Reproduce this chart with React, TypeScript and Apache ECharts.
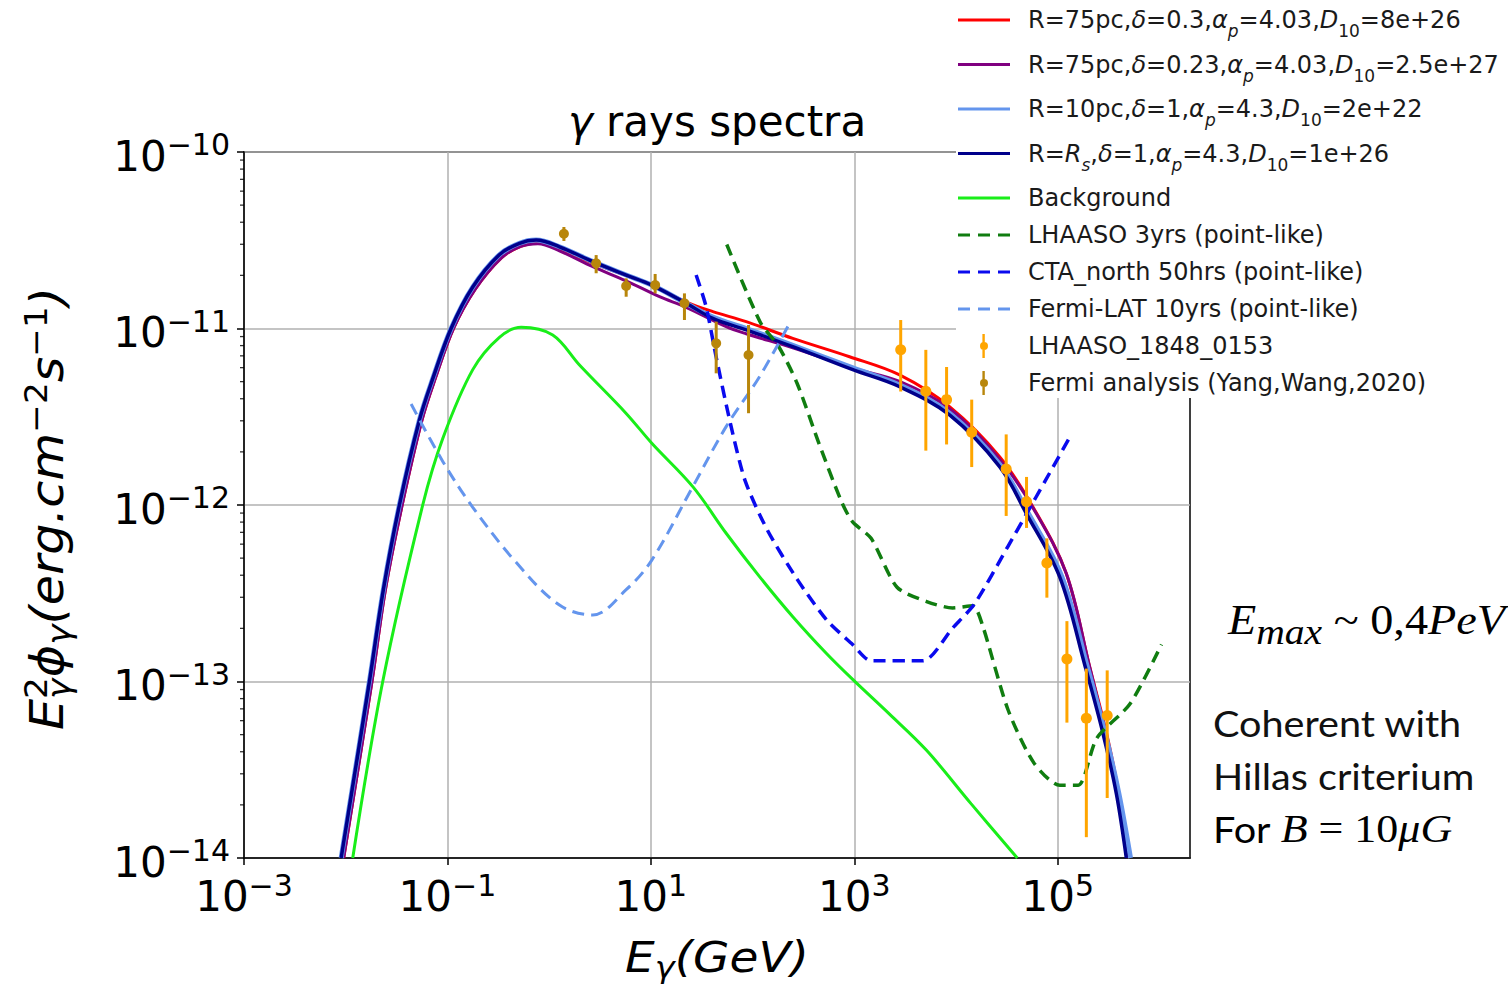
import React, { useEffect, useRef } from 'react';
import * as echarts from 'echarts';

// All values are log10: x = log10(E_gamma / GeV), y = log10(E^2 Phi / erg cm^-2 s^-1)
const X_TICKS = [-3, -1, 1, 3, 5];
const Y_TICKS = [-14, -13, -12, -11, -10];
const MINOR_MULTIPLES = [2, 3, 4, 5, 6, 7, 8, 9];

const NAME_RED = 'R=75pc,δ=0.3,αp=4.03,D10=8e+26';
const NAME_PURPLE = 'R=75pc,δ=0.23,αp=4.03,D10=2.5e+27';
const NAME_LIGHT = 'R=10pc,δ=1,αp=4.3,D10=2e+22';
const NAME_DARK = 'R=Rs,δ=1,αp=4.3,D10=1e+26';
const NAME_BG = 'Background';
const NAME_LH3 = 'LHAASO 3yrs (point-like)';
const NAME_CTA = 'CTA_north 50hrs (point-like)';
const NAME_FLAT = 'Fermi-LAT 10yrs (point-like)';
const NAME_LHD = 'LHAASO_1848_0153';
const NAME_FAD = 'Fermi analysis (Yang,Wang,2020)';

const RED: [number, number][] = [
  [-2.02, -14.0], [-1.742, -13.0], [-1.61, -12.48], [-1.445, -12.0], [-1.25, -11.518], [-1.12, -11.284],
  [-0.94, -11.0], [-0.73, -10.78], [-0.47, -10.6], [-0.28, -10.535], [-0.11, -10.515], [0.101, -10.55],
  [0.429, -10.63], [0.757, -10.7], [1.009, -10.755], [1.347, -10.85], [1.609, -10.904], [1.937, -10.961],
  [2.395, -11.056], [2.953, -11.16], [3.445, -11.263], [3.936, -11.443], [4.428, -11.726], [4.755, -12.01],
  [5.083, -12.387], [5.313, -12.916], [5.48, -13.293], [5.6, -13.633], [5.7, -14.0],
];
const PURPLE: [number, number][] = [
  [-2.02, -14.0], [-1.742, -13.0], [-1.61, -12.48], [-1.445, -12.0], [-1.25, -11.518], [-1.12, -11.284],
  [-0.94, -11.0], [-0.73, -10.78], [-0.47, -10.6], [-0.28, -10.535], [-0.11, -10.52], [0.101, -10.56],
  [0.429, -10.65], [0.757, -10.73], [1.085, -10.82], [1.347, -10.88], [1.74, -10.99], [1.937, -11.03],
  [2.395, -11.11], [2.992, -11.225], [3.445, -11.3], [3.936, -11.455], [4.428, -11.74], [4.755, -12.015],
  [5.083, -12.387], [5.313, -12.916], [5.47, -13.293], [5.59, -13.633], [5.69, -14.0],
];
const LIGHT: [number, number][] = [
  [-2.045, -14.0], [-1.767, -13.0], [-1.63, -12.48], [-1.472, -12.0], [-1.275, -11.518], [-1.144, -11.284],
  [-0.964, -11.0], [-0.751, -10.765], [-0.489, -10.582], [-0.292, -10.517], [-0.128, -10.499], [0.101, -10.537],
  [0.429, -10.621], [0.757, -10.697], [1.009, -10.754], [1.347, -10.857], [1.609, -10.935], [1.937, -11.0],
  [2.395, -11.095], [2.992, -11.225], [3.445, -11.32], [3.936, -11.48], [4.428, -11.77], [4.71, -12.047],
  [5.04, -12.406], [5.29, -12.916], [5.465, -13.293], [5.6, -13.633], [5.715, -14.0],
];
const DARK: [number, number][] = [
  [-2.045, -14.0], [-1.767, -13.0], [-1.63, -12.48], [-1.472, -12.0], [-1.275, -11.518], [-1.144, -11.284],
  [-0.964, -11.0], [-0.751, -10.765], [-0.489, -10.582], [-0.292, -10.517], [-0.128, -10.499], [0.101, -10.537],
  [0.429, -10.621], [0.757, -10.697], [1.009, -10.754], [1.347, -10.857], [1.609, -10.943], [1.937, -11.008],
  [2.395, -11.103], [2.992, -11.235], [3.445, -11.33], [3.936, -11.49], [4.428, -11.783], [4.69, -12.047],
  [5.018, -12.406], [5.27, -12.916], [5.444, -13.293], [5.575, -13.633], [5.674, -14.0],
];
const BACKGROUND: [number, number][] = [
  [-1.931, -14.0], [-1.636, -13.0], [-1.243, -12.0], [-1.046, -11.623], [-0.751, -11.233], [-0.489, -11.05],
  [-0.275, -10.993], [0.035, -11.037], [0.298, -11.207], [0.757, -11.481], [1.009, -11.65], [1.412, -11.896],
  [1.74, -12.16], [2.068, -12.406], [2.395, -12.633], [2.724, -12.84], [2.994, -12.994], [3.346, -13.185],
  [3.71, -13.39], [4.147, -13.692], [4.602, -14.0],
];
const LHAASO_3YR: [number, number][] = [
  [1.746, -10.524], [2.074, -10.963], [2.256, -11.102], [2.437, -11.31], [2.656, -11.657], [2.874, -11.981],
  [2.983, -12.096], [3.165, -12.189], [3.42, -12.466], [3.711, -12.547], [3.965, -12.583], [4.165, -12.571],
  [4.256, -12.674], [4.511, -13.16], [4.765, -13.461], [5.02, -13.588], [5.201, -13.588], [5.383, -13.322],
  [5.711, -13.126], [6.02, -12.79],
];
const CTA_NORTH: [number, number][] = [
  [1.445, -10.697], [1.543, -10.876], [1.637, -11.148], [1.783, -11.541], [1.928, -11.865], [2.146, -12.143],
  [2.437, -12.42], [2.729, -12.652], [2.983, -12.79], [3.165, -12.883], [3.674, -12.883], [3.965, -12.698],
  [4.183, -12.559], [4.511, -12.234], [4.693, -12.05], [4.875, -11.865], [5.111, -11.623],
];
const FERMI_LAT: [number, number][] = [
  [-1.357, -11.428], [-1.046, -11.753], [-0.751, -12.013], [-0.325, -12.325], [0.101, -12.567], [0.429, -12.623],
  [0.757, -12.48], [1.009, -12.312], [1.412, -11.896], [1.74, -11.556], [2.068, -11.273], [2.363, -10.971],
];
// [logE, logF, logF_low, logF_high]
const LHAASO_DATA: number[][] = [
  [3.456, -11.12, -11.357, -10.952], [3.703, -11.356, -11.692, -11.121], [3.907, -11.403, -11.657, -11.218],
  [4.154, -11.588, -11.785, -11.403], [4.493, -11.796, -12.062, -11.6], [4.693, -11.981, -12.13, -11.841],
  [4.893, -12.328, -12.525, -12.189], [5.09, -12.872, -13.233, -12.658], [5.281, -13.208, -13.882, -12.927],
  [5.486, -13.193, -13.66, -12.937],
];
const FERMI_DATA: number[][] = [
  [0.145, -10.463, -10.504, -10.425], [0.462, -10.631, -10.687, -10.584], [0.757, -10.759, -10.82, -10.716],
  [1.042, -10.754, -10.801, -10.691], [1.33, -10.857, -10.952, -10.801], [1.642, -11.084, -11.254, -10.961],
  [1.96, -11.15, -11.48, -10.98],
];

const LEGEND_RICH: Record<string, string> = {
  [NAME_RED]: '{n|R=75pc,}{i|δ}{n|=0.3,}{i|α}{si|p}{n|=4.03,}{i|D}{s|10}{n|=8e+26}',
  [NAME_PURPLE]: '{n|R=75pc,}{i|δ}{n|=0.23,}{i|α}{si|p}{n|=4.03,}{i|D}{s|10}{n|=2.5e+27}',
  [NAME_LIGHT]: '{n|R=10pc,}{i|δ}{n|=1,}{i|α}{si|p}{n|=4.3,}{i|D}{s|10}{n|=2e+22}',
  [NAME_DARK]: '{n|R=}{i|R}{si|s}{n|,}{i|δ}{n|=1,}{i|α}{si|p}{n|=4.3,}{i|D}{s|10}{n|=1e+26}',
};

const FONT = 'DejaVu Sans';
const SERIF = 'Liberation Serif';
const ICON_SOLID = 'path://M0,0 h52 v3 h-52 Z';
const ICON_DASH = 'path://M0,0 h12 v3 h-12 Z M20,0 h12 v3 h-12 Z M40,0 h12 v3 h-12 Z';
const ICON_ERR = 'path://M24,0 h3 v30 h-3 Z M31,15 a5,5 0 1,1 -10,0 a5,5 0 1,1 10,0 Z';

const sup = (n: number) => (n < 0 ? '−' + Math.abs(n) : String(n));

function measure(text: string, font: string, fallback: number) {
  try {
    const ctx = document.createElement('canvas').getContext('2d');
    if (!ctx) return fallback;
    ctx.font = font;
    return ctx.measureText(text).width;
  } catch (e) {
    return fallback;
  }
}

function lineSeries(name: string, data: [number, number][], color: string, width: number, type: any = 'solid', smooth = 0.35) {
  return {
    name, type: 'line', data, showSymbol: false, symbol: 'none', smooth,
    lineStyle: { color, width, type, cap: 'butt' }, itemStyle: { color }, clip: true, silent: true,
  };
}

function errSeries(name: string, data: number[][], color: string, r: number) {
  return {
    name, type: 'custom', data, encode: { x: 0, y: 1 }, itemStyle: { color }, silent: true, z: 5,
    renderItem: (params: any, api: any) => {
      const p = api.coord([api.value(0), api.value(1)]);
      const lo = api.coord([api.value(0), api.value(2)]);
      const hi = api.coord([api.value(0), api.value(3)]);
      return {
        type: 'group',
        children: [
          { type: 'line', shape: { x1: lo[0], y1: lo[1], x2: hi[0], y2: hi[1] }, style: { stroke: color, lineWidth: 3 } },
          { type: 'circle', shape: { cx: p[0], cy: p[1], r }, style: { fill: color } },
        ],
      };
    },
  };
}

export default function App() {
  const ref = useRef<HTMLDivElement>(null);
  useEffect(() => {
    if (!ref.current) return;
    const chart = echarts.init(ref.current, null, { renderer: 'svg' });

    const tickRich = {
      b: { fontFamily: FONT, fontSize: 42, lineHeight: 53, color: '#000' },
      s: { fontFamily: FONT, fontSize: 30, lineHeight: 30, verticalAlign: 'top', color: '#000' },
    };
    const minorData: number[][] = [];
    for (let d = -14; d < -10; d++) for (const k of MINOR_MULTIPLES) minorData.push([-3, d + Math.log10(k)]);

    const ySize = 46;
    const wE = measure('E', `italic ${ySize}px "${FONT}"`, 0.632 * ySize);

    const option: any = {
      animation: false,
      backgroundColor: '#fff',
      grid: { left: 244, top: 152, width: 946, height: 706, show: true, borderColor: '#000', borderWidth: 1.5, backgroundColor: 'transparent' },
      xAxis: {
        type: 'value', min: -3, max: 6.3, interval: 2,
        axisLine: { onZero: false, lineStyle: { color: '#000', width: 1.5 } },
        axisTick: { show: true, length: 7, customValues: X_TICKS, lineStyle: { color: '#000', width: 1.5 } },
        axisLabel: {
          margin: 12, customValues: X_TICKS,
          formatter: (v: number) => `{b|10}{s|${sup(v)}}`, rich: tickRich,
        },
        splitLine: { show: true, lineStyle: { color: '#b0b0b0', width: 1.5 } },
      },
      yAxis: {
        type: 'value', min: -14, max: -10, interval: 1,
        axisLine: { onZero: false, lineStyle: { color: '#000', width: 1.5 } },
        axisTick: { show: true, length: 7, lineStyle: { color: '#000', width: 1.5 } },
        axisLabel: {
          margin: 14, padding: [8, 0, 0, 0], customValues: Y_TICKS,
          formatter: (v: number) => `{b|10}{s|${sup(v)}}`, rich: tickRich,
        },
        splitLine: { show: true, lineStyle: { color: '#b0b0b0', width: 1.5 } },
      },
      legend: {
        orient: 'vertical', left: 958, top: 8, padding: 0, itemGap: 13, itemWidth: 52, itemHeight: 24,
        selectedMode: false,
        data: [
          { name: NAME_RED, icon: ICON_SOLID }, { name: NAME_PURPLE, icon: ICON_SOLID },
          { name: NAME_LIGHT, icon: ICON_SOLID }, { name: NAME_DARK, icon: ICON_SOLID },
          { name: NAME_BG, icon: ICON_SOLID }, { name: NAME_LH3, icon: ICON_DASH },
          { name: NAME_CTA, icon: ICON_DASH }, { name: NAME_FLAT, icon: ICON_DASH },
          { name: NAME_LHD, icon: ICON_ERR }, { name: NAME_FAD, icon: ICON_ERR },
        ],
        formatter: (name: string) => LEGEND_RICH[name] || `{m|${name}}`,
        textStyle: {
          fontFamily: FONT, fontSize: 24, color: '#1a1a1a', padding: [0, 0, 0, 13],
          rich: {
            n: { fontFamily: FONT, fontSize: 24, lineHeight: 39, verticalAlign: 'middle', color: '#1a1a1a' },
            i: { fontFamily: FONT, fontSize: 24, lineHeight: 39, fontStyle: 'italic', verticalAlign: 'middle', color: '#1a1a1a' },
            s: { fontFamily: FONT, fontSize: 17, lineHeight: 17, verticalAlign: 'bottom', color: '#1a1a1a' },
            si: { fontFamily: FONT, fontSize: 17, lineHeight: 17, fontStyle: 'italic', verticalAlign: 'bottom', color: '#1a1a1a' },
            m: { fontFamily: FONT, fontSize: 24, lineHeight: 24, color: '#1a1a1a' },
          },
        },
      },
      graphic: [
        { type: 'rect', z: 3, silent: true, shape: { x: 956, y: 0, width: 560, height: 398 }, style: { fill: '#fff' } },
        {
          type: 'text', x: 717, y: 121, silent: true,
          style: {
            text: '{g|γ}{r| rays spectra}', align: 'center', verticalAlign: 'middle', textAlign: 'center', textVerticalAlign: 'middle',
            rich: {
              g: { fontFamily: FONT, fontSize: 42, lineHeight: 48, fontStyle: 'italic', color: '#000' },
              r: { fontFamily: FONT, fontSize: 42, lineHeight: 48, color: '#000' },
            },
          },
        },
        {
          type: 'text', x: 717, y: 933, scaleX: 1.12, silent: true,
          style: {
            text: '{e|E}{sb|γ}{e|(GeV)}', align: 'center', verticalAlign: 'top', textAlign: 'center', textVerticalAlign: 'top',
            rich: {
              e: { fontFamily: FONT, fontSize: 42, lineHeight: 50, fontStyle: 'italic', color: '#000' },
              sb: { fontFamily: FONT, fontSize: 30, lineHeight: 30, fontStyle: 'italic', verticalAlign: 'bottom', color: '#000' },
            },
          },
        },
        {
          type: 'group', x: 20, y: 730, rotation: Math.PI / 2, scaleX: 1.07, silent: true,
          children: [
            {
              type: 'text', x: 0, y: 0,
              style: {
                text: '{b|E}{sp|2}{b|ϕ}{sb|γ}{b|(erg.cm}{sp|−2}{b|s}{sp|−1}{b|)}',
                align: 'left', verticalAlign: 'top', textAlign: 'left', textVerticalAlign: 'top',
                rich: {
                  b: { fontFamily: FONT, fontSize: ySize, lineHeight: 55, fontStyle: 'italic', verticalAlign: 'middle', color: '#000' },
                  sp: { fontFamily: FONT, fontSize: 32, lineHeight: 32, verticalAlign: 'top', color: '#000' },
                  sb: { fontFamily: FONT, fontSize: 32, lineHeight: 32, fontStyle: 'italic', verticalAlign: 'bottom', color: '#000' },
                },
              },
            },
            {
              type: 'text', x: wE, y: 39,
              style: {
                text: 'γ', fontFamily: FONT, fontSize: 32, fontStyle: 'italic', fill: '#000',
                align: 'left', verticalAlign: 'middle', textAlign: 'left', textVerticalAlign: 'middle',
              },
            },
          ],
        },
        {
          type: 'text', x: 1228, y: 590, scaleX: 1.1, silent: true,
          style: {
            text: '{e|E}{sub|max}{n| ~ 0,4}{e|PeV}', align: 'left', verticalAlign: 'top', textAlign: 'left', textVerticalAlign: 'top',
            rich: {
              e: { fontFamily: SERIF, fontSize: 42, lineHeight: 60, fontStyle: 'italic', verticalAlign: 'middle', color: '#000' },
              n: { fontFamily: SERIF, fontSize: 42, lineHeight: 60, verticalAlign: 'middle', color: '#000' },
              sub: { fontFamily: SERIF, fontSize: 36, lineHeight: 36, fontStyle: 'italic', verticalAlign: 'bottom', color: '#000' },
            },
          },
        },
        {
          type: 'text', x: 1213, y: 723, scaleX: 1.1, silent: true,
          style: { text: 'Coherent with', fontFamily: 'Lato', fontSize: 36, fill: '#111', align: 'left', verticalAlign: 'middle', textAlign: 'left', textVerticalAlign: 'middle' },
        },
        {
          type: 'text', x: 1213, y: 776, scaleX: 1.1, silent: true,
          style: { text: 'Hillas criterium', fontFamily: 'Lato', fontSize: 36, fill: '#111', align: 'left', verticalAlign: 'middle', textAlign: 'left', textVerticalAlign: 'middle' },
        },
        {
          type: 'text', x: 1213, y: 829, scaleX: 1.1, silent: true,
          style: {
            text: '{c|For }{mi|B}{mr| = 10}{mi|μG}', align: 'left', verticalAlign: 'middle', textAlign: 'left', textVerticalAlign: 'middle',
            rich: {
              c: { fontFamily: 'Lato', fontSize: 36, lineHeight: 48, color: '#111' },
              mi: { fontFamily: SERIF, fontSize: 40, lineHeight: 48, fontStyle: 'italic', color: '#111' },
              mr: { fontFamily: SERIF, fontSize: 40, lineHeight: 48, color: '#111' },
            },
          },
        },
      ],
      series: [
        {
          name: 'minor ticks', type: 'scatter', data: minorData, symbol: 'rect', symbolSize: [4, 1.3], symbolOffset: [-2, 0],
          itemStyle: { color: '#000' }, silent: true, clip: false, z: 3,
        },
        lineSeries(NAME_RED, RED, '#ff0000', 3),
        lineSeries(NAME_PURPLE, PURPLE, '#800080', 3),
        lineSeries(NAME_LIGHT, LIGHT, '#6495ed', 5),
        lineSeries(NAME_DARK, DARK, '#00008b', 3.5),
        lineSeries(NAME_BG, BACKGROUND, '#19ee19', 3),
        lineSeries(NAME_LH3, LHAASO_3YR, '#107d10', 3.5, [12, 7], 0.25),
        lineSeries(NAME_CTA, CTA_NORTH, '#0a0aee', 3.5, [12, 7], 0.25),
        lineSeries(NAME_FLAT, FERMI_LAT, '#6495ed', 3, [12, 7], 0.35),
        errSeries(NAME_LHD, LHAASO_DATA, '#ffa500', 5.5),
        errSeries(NAME_FAD, FERMI_DATA, '#b8860b', 5),
      ],
    };
    chart.setOption(option);
    return () => chart.dispose();
  }, []);
  return <div ref={ref} style={{ position: 'fixed', left: 0, top: 0, width: 1508, height: 988, background: '#fff' }} />;
}
